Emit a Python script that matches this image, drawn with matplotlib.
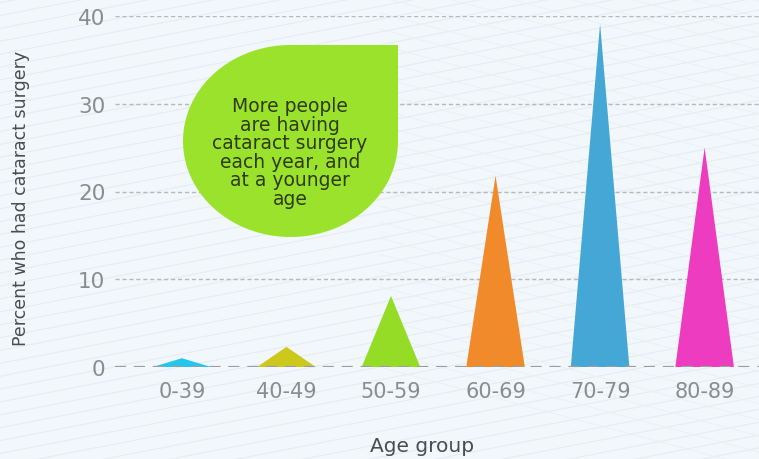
import numpy as np
import matplotlib
matplotlib.use('Agg')
import matplotlib.pyplot as plt
from matplotlib.patches import Polygon
from matplotlib.lines import Line2D

# Percent who had cataract surgery, by age group
age_groups = ['0-39', '40-49', '50-59', '60-69', '70-79', '80-89']
percent = [1.0, 2.3, 8.1, 21.8, 39.1, 25.0]
colors = ['#25c6ee', '#cdc81c', '#95dc27', '#f08a2b', '#45a7d5', '#ee3cc0']
y_ticks = [0, 10, 20, 30, 40]
note = "More people\nare having\ncataract surgery\neach year, and\nat a younger\nage"

W, H = 759, 460
bg = '#f1f7fa'
fig = plt.figure(figsize=(W / 100, H / 100), dpi=100, facecolor=bg)

# faint diagonal hatching on the background
for k in np.arange(-1.5, 1.5, 0.028):
    fig.add_artist(Line2D([0, 1], [k, k + 0.32], transform=fig.transFigure,
                          color='#e5edf2', lw=0.8, zorder=0))
for k in np.arange(0.2, 2.2, 0.035):
    fig.add_artist(Line2D([0.5, 1], [k, k - 0.22], transform=fig.transFigure,
                          color='#e9f1f5', lw=0.6, zorder=0))

ax = fig.add_axes([115 / W, (H - 368) / H, 1 - 115 / W, (368 - 17) / H])
ax.patch.set_alpha(0)

x = np.arange(len(age_groups))
hw = 0.28
for xi, v, c in zip(x, percent, colors):
    ax.fill([xi - hw, xi, xi + hw], [0, v, 0], color=c, lw=0, zorder=3)

# gridlines
for t in y_ticks[1:]:
    ax.axhline(t, color='#b4b9bc', lw=1.0, ls=(0, (3, 2)), zorder=1)
ax.axhline(0, color='#9a9fa2', lw=1.6, ls=(0, (5, 3.5)), zorder=4)

ax.set_xlim(-0.64, 5.52)
ax.set_ylim(0, 40)
ax.set_xticks(x)
ax.set_xticklabels(age_groups)
ax.set_yticks(y_ticks)
ax.tick_params(axis='x', length=0, pad=10, labelsize=15, labelcolor='#8a8d90')
ax.tick_params(axis='y', length=0, pad=7, labelsize=15.5, labelcolor='#8a8d90')
for s in ax.spines.values():
    s.set_visible(False)

fig.text(21 / W, 1 - 198 / H, 'Percent who had cataract surgery', rotation=90,
         ha='center', va='center', fontsize=12.5, color='#4a4c4e')
fig.text(422 / W, 1 - 447 / H, 'Age group', ha='center', va='center',
         fontsize=14.5, color='#4a4c4e')

# leaf shaped callout: ellipse with a square top-right corner
cx, cy, rx, ry = 290.5, 142, 107.5, 96
th = np.linspace(np.pi / 2, 2 * np.pi, 120)
px = cx + rx * np.cos(th)
py = (H - cy) + ry * np.sin(th)
pts = np.column_stack([px, py])
pts = np.vstack([pts, [cx + rx, H - cy + ry]])
pts[:, 0] /= W
pts[:, 1] /= H
fig.add_artist(Polygon(pts, closed=True, transform=fig.transFigure,
                       facecolor='#9be22d', edgecolor='none', zorder=5))
fig.text(290 / W, 1 - 153 / H, note, ha='center', va='center', fontsize=13.5,
         color='#2e3b14', linespacing=0.97, zorder=6)

fig.savefig('out.png', dpi=100, facecolor=bg)
